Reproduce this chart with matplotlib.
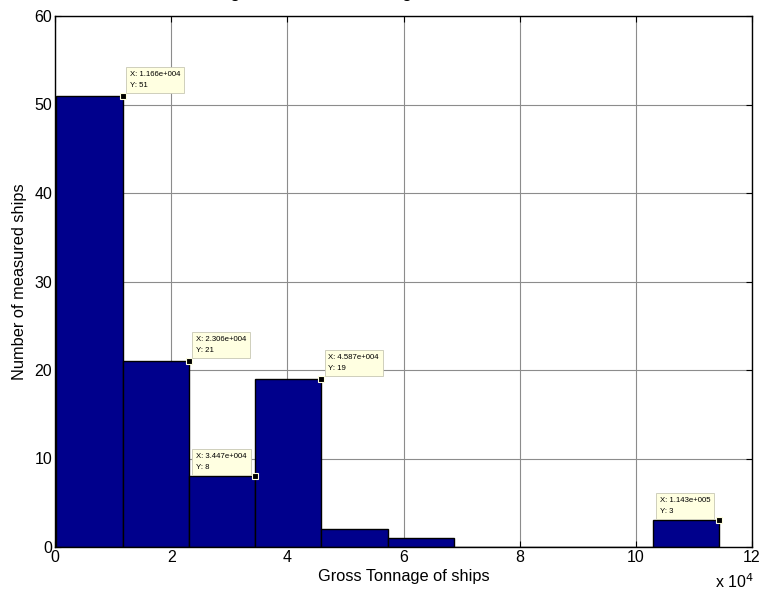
#!/usr/bin/env python3
# -*- coding: utf-8 -*-
"""Histogram of gross tonnage for the measured ships, drawn MATLAB-style."""

import numpy as np
import matplotlib
matplotlib.use("Agg")
import matplotlib.pyplot as plt

# ten equal bins between the smallest and largest tonnage
tonnage_min = 255.0
tonnage_max = 114300.0
ship_counts = [51, 21, 8, 19, 2, 1, 0, 0, 0, 3]

# data tips: bin index and the X text shown in the tip
tip_bins = [0, 1, 2, 3, 9]
tip_x_labels = ["1.166e+004", "2.306e+004", "3.447e+004", "4.587e+004", "1.143e+005"]
tip_sides = ["right", "right", "left", "right", "left"]

x_ticks = [0, 2, 4, 6, 8, 10, 12]
y_ticks = [0, 10, 20, 30, 40, 50, 60]

plt.rcParams["font.family"] = ["Liberation Sans", "DejaVu Sans"]

W, H = 761, 590
fig = plt.figure(figsize=(W / 100, H / 100), dpi=100)
ax = fig.add_axes([55 / W, 1 - 547 / H, 697 / W, 531 / H])

edges = np.linspace(tonnage_min, tonnage_max, len(ship_counts) + 1)
ax.bar(edges[:-1], ship_counts, width=np.diff(edges), align="edge",
       color="#00008C", edgecolor="black", linewidth=1.0, zorder=2)

ax.set_xlim(0, 120000)
ax.set_ylim(0, 60)
ax.set_xticks([t * 1e4 for t in x_ticks])
ax.set_xticklabels([str(t) for t in x_ticks])
ax.set_yticks(y_ticks)
ax.grid(True, color="#8c8c8c", linewidth=0.8, zorder=0)
ax.set_axisbelow(True)
ax.tick_params(direction="in", top=True, right=True, length=4,
               labelsize=11.5, pad=2, color="black")
for sp in ax.spines.values():
    sp.set_linewidth(1.0)
    sp.set_zorder(5)

ax.set_xlabel("Gross Tonnage of ships", fontsize=11.8, labelpad=3)
ax.set_ylabel("Number of measured ships", fontsize=11.8, labelpad=5)
fig.text(715 / W, 1 - 588 / H, r"x 10$^{4}$", fontsize=11.5, ha="left", va="baseline",
         math_fontfamily="dejavusans")

# title sits above the top edge, only its descenders show
fig.text(188 / W, 1 + 3 / H, "Histogram of Gross Tonnage", fontsize=13.3,
         ha="left", va="baseline")

# data tips on the top-right corner of selected bars
for b, xl, side in zip(tip_bins, tip_x_labels, tip_sides):
    px = edges[b + 1]
    py = ship_counts[b]
    ax.plot(px, py, marker="s", markersize=4.5, color="black",
            markeredgecolor="#ffffe0", markeredgewidth=0.8, zorder=6, clip_on=False)
    if side == "right":
        offset, ha = (5, 5), "left"
    else:
        offset, ha = (-6, 4), "right"
    ax.annotate(f"X: {xl}\nY: {py}", xy=(px, py), xytext=offset,
                textcoords="offset points", fontsize=5.6, ha=ha, va="bottom",
                multialignment="left", linespacing=1.8, zorder=7,
                bbox=dict(boxstyle="square,pad=0.5", facecolor="#ffffe1",
                          edgecolor="#c8c8b4", linewidth=0.6))

fig.savefig("out.png", dpi=100)
